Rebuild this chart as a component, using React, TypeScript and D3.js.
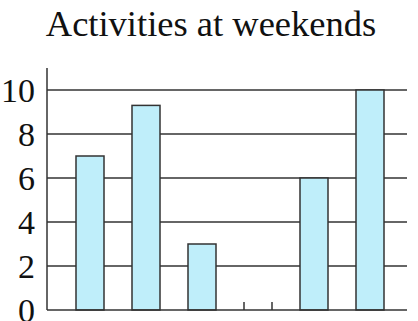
import React from "react";
import * as d3 from "d3";

const title = "Activities at weekends";
const categories = ["A", "B", "C", "D", "E", "F"];
const values = [7, 9.3, 3, 0, 6, 10];
const yTicks = [0, 2, 4, 6, 8, 10];

const W = 418;
const H = 321;

export default function App() {
  const x = d3
    .scaleBand<string>()
    .domain(categories)
    .range([62, 398])
    .paddingInner(0.5)
    .paddingOuter(0.25);
  const y = d3.scaleLinear().domain([0, 10]).range([310, 90]);
  const axisX = 47;
  const gridEnd = 407;
  const stroke = "#333";
  const font = "Liberation Serif";

  return (
    <svg
      width={W}
      height={H}
      style={{ position: "absolute", left: 0, top: 0, background: "#fff" }}
    >
      <text
        x={211}
        y={36}
        textAnchor="middle"
        fontFamily={font}
        fontSize={36.5}
        fill="#111"
      >
        {title}
      </text>
      {yTicks.map((t) => (
        <g key={t}>
          {t > 0 && (
            <line
              x1={axisX}
              x2={gridEnd}
              y1={y(t)}
              y2={y(t)}
              stroke={stroke}
              strokeWidth={1.5}
            />
          )}
          <text
            x={35}
            y={y(t)}
            dy="0.36em"
            textAnchor="end"
            fontFamily={font}
            fontSize={34}
            fill="#111"
          >
            {t}
          </text>
        </g>
      ))}
      {categories.map((c, i) => {
        const x0 = x(c)!;
        const bw = x.bandwidth();
        const v = values[i];
        if (v === 0) {
          return (
            <g key={c}>
              <line x1={x0} x2={x0} y1={302} y2={310} stroke={stroke} strokeWidth={1.5} />
              <line x1={x0 + bw} x2={x0 + bw} y1={302} y2={310} stroke={stroke} strokeWidth={1.5} />
            </g>
          );
        }
        return (
          <rect
            key={c}
            x={x0}
            y={y(v)}
            width={bw}
            height={y(0) - y(v)}
            fill="#bfeefa"
            stroke={stroke}
            strokeWidth={1.5}
          />
        );
      })}
      <line x1={axisX} x2={axisX} y1={68} y2={310} stroke={stroke} strokeWidth={1.5} />
      <line x1={axisX} x2={gridEnd} y1={310} y2={310} stroke={stroke} strokeWidth={1.5} />
    </svg>
  );
}
